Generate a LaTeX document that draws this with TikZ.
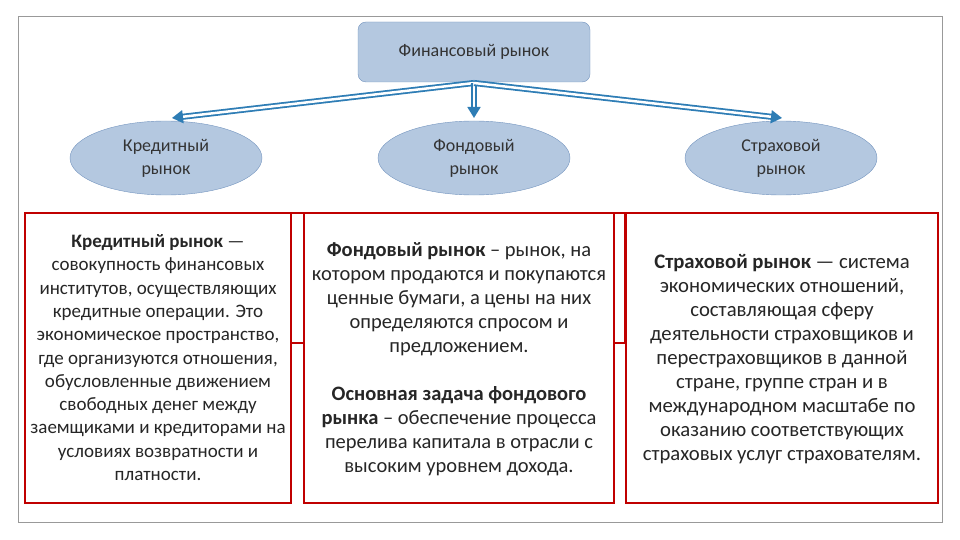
\documentclass[tikz,border=0pt]{standalone}
\usepackage{fontspec}
\setmainfont{Carlito}
\usetikzlibrary{arrows.meta,shapes.geometric}
\definecolor{boxfill}{HTML}{B4C8E0}
\definecolor{boxline}{HTML}{7394BE}
\definecolor{arr}{HTML}{2E7DB5}
\definecolor{redb}{HTML}{C00000}
\begin{document}
\begin{tikzpicture}[x=1pt,y=-1pt,
 topbox/.style={draw=boxline,fill=boxfill,rounded corners=8pt,minimum width=232pt,minimum height=60pt,font=\fontsize{18}{20}\selectfont,text=black!80},
 ell/.style={draw=boxline,fill=boxfill,ellipse,minimum width=192pt,minimum height=74pt,align=center,font=\fontsize{18}{23}\selectfont,text=black!80},
 redbox/.style={draw=redb,line width=2.5pt,fill=white},
 dbl/.style={double=white,draw=arr,double distance=2.5pt,line width=1.8pt,-{Triangle[length=11pt,width=13pt,fill=arr]}},
 txt/.style={align=center,text=black!85}]
\useasboundingbox (0,0) rectangle (960,540);
\draw[black!40] (18,16) rectangle (942,522);
\node[topbox] (fin) at (474,52) {Финансовый рынок};
\node[ell] (kr) at (166,158) {Кредитный\\рынок};
\node[ell] (fo) at (474,158) {Фондовый\\рынок};
\node[ell] (st) at (781,158) {Страховой\\рынок};
\coordinate (o) at (474,83);
\draw[dbl] (o) -- (172,118);
\draw[dbl] (o) -- (474,118);
\draw[dbl] (o) -- (782,118);
\draw[redbox] (290,213) rectangle (625,343);
\draw[redbox] (25,213) rectangle (291,503);
\draw[redbox] (304,213) rectangle (614,503);
\draw[redbox] (626,213) rectangle (938,503);
\node[txt,font=\fontsize{19}{23.3}\selectfont,anchor=north] (t1) at (158,231) {\textbf{Кредитный рынок} —\\совокупность финансовых\\институтов, осуществляющих\\кредитные операции. Это\\экономическое пространство,\\где организуются отношения,\\обусловленные движением\\свободных денег между\\заемщиками и кредиторами на\\условиях возвратности и\\платности.};
\node[txt,font=\fontsize{20.5}{24}\selectfont,anchor=north] (t2) at (459,239) {\textbf{Фондовый рынок} – рынок, на\\котором продаются и покупаются\\ценные бумаги, а цены на них\\определяются спросом и\\предложением.\\[24pt]\textbf{Основная задача фондового}\\\textbf{рынка} – обеспечение процесса\\перелива капитала в отрасли с\\высоким уровнем дохода.};
\node[txt,font=\fontsize{20.7}{24}\selectfont,anchor=north] (t3) at (782,251) {\textbf{Страховой рынок} — система\\экономических отношений,\\составляющая сферу\\деятельности страховщиков и\\перестраховщиков в данной\\стране, группе стран и в\\международном масштабе по\\оказанию соответствующих\\страховых услуг страхователям.};
\end{tikzpicture}
\end{document}
